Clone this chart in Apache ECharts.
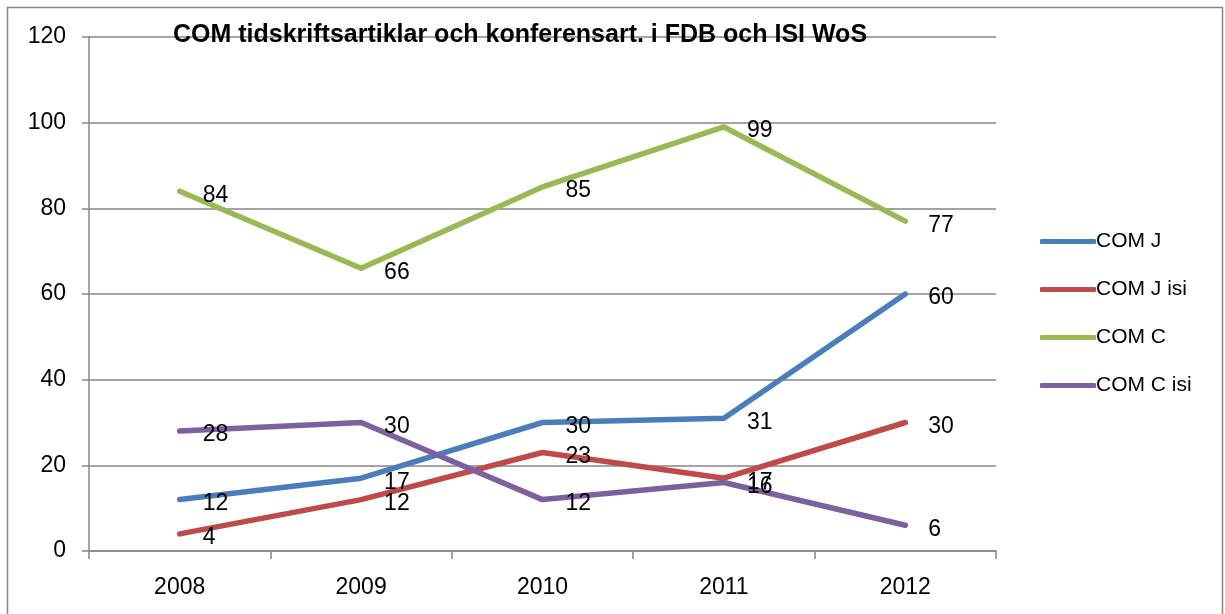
<!DOCTYPE html>
<html>
<head>
<meta charset="utf-8">
<script src="https://cdn.jsdelivr.net/npm/echarts@6/dist/echarts.min.js"></script>
<style>
html,body{margin:0;padding:0;background:#fff;}
#chart{width:1225px;height:614px;}
</style>
</head>
<body>
<div id="chart"></div>
<script>
const titleText = 'COM tidskriftsartiklar och konferensart. i FDB och ISI WoS';
const categories = ['2008', '2009', '2010', '2011', '2012'];
const seriesNames = ['COM J', 'COM J isi', 'COM C', 'COM C isi'];
const comJ = [12, 17, 30, 31, 60];
const comJIsi = [4, 12, 23, 17, 30];
const comC = [84, 66, 85, 99, 77];
const comCIsi = [28, 30, 12, 16, 6];
const yTicks = [0, 20, 40, 60, 80, 100, 120];

const colors = ['#4a7ebb', '#be4b48', '#98b954', '#7d60a0'];
const values = [comJ, comJIsi, comC, comCIsi];
const FONT = '"Liberation Sans", Arial, sans-serif';

const chart = echarts.init(document.getElementById('chart'), null, {renderer: 'canvas'});
chart.setOption({
  animation: false,
  backgroundColor: '#fff',
  color: colors,
  title: {
    text: titleText,
    left: 515,
    textAlign: 'center',
    top: 18,
    textStyle: {fontFamily: FONT, fontSize: 25, fontWeight: 'bold', color: '#000'}
  },
  graphic: [{
    type: 'rect',
    shape: {x: 7.5, y: 7.5, width: 1215, height: 640},
    style: {fill: 'none', stroke: '#868686', lineWidth: 1.5},
    silent: true, z: -1
  }],
  legend: {
    orient: 'vertical',
    left: 1035,
    top: 226,
    itemWidth: 56,
    itemHeight: 5,
    itemGap: 27,
    icon: 'roundRect',
    data: seriesNames,
    textStyle: {fontFamily: FONT, fontSize: 21, color: '#000', padding: [0, 0, 0, -5]}
  },
  grid: {left: 89, right: 229, top: 37, bottom: 63, containLabel: false},
  xAxis: {
    type: 'category',
    data: categories,
    boundaryGap: true,
    axisLine: {lineStyle: {color: '#868686', width: 1.5}},
    axisTick: {show: true, length: 8, lineStyle: {color: '#868686', width: 1.5}},
    axisLabel: {fontFamily: FONT, fontSize: 23, color: '#000', margin: 25}
  },
  yAxis: {
    type: 'value',
    min: yTicks[0],
    max: yTicks[yTicks.length - 1],
    interval: yTicks[1] - yTicks[0],
    axisLine: {show: true, lineStyle: {color: '#868686', width: 1.5}},
    axisTick: {show: true, length: 7, lineStyle: {color: '#868686', width: 1.5}},
    splitLine: {lineStyle: {color: '#868686', width: 1.5}},
    axisLabel: {fontFamily: FONT, fontSize: 23, color: '#000', margin: 23, padding: [3, 0, 0, 0]}
  },
  series: seriesNames.map((name, i) => ({
    name: name,
    type: 'line',
    data: values[i],
    symbol: 'circle',
    symbolSize: 0,
    showSymbol: true,
    lineStyle: {width: 5.5, color: colors[i], cap: 'round', join: 'round'},
    itemStyle: {color: colors[i]},
    label: {
      show: true,
      position: 'right',
      distance: 23,
      offset: [0, 4],
      fontFamily: FONT,
      fontSize: 23,
      color: '#000'
    }
  }))
});
</script>
</body>
</html>
